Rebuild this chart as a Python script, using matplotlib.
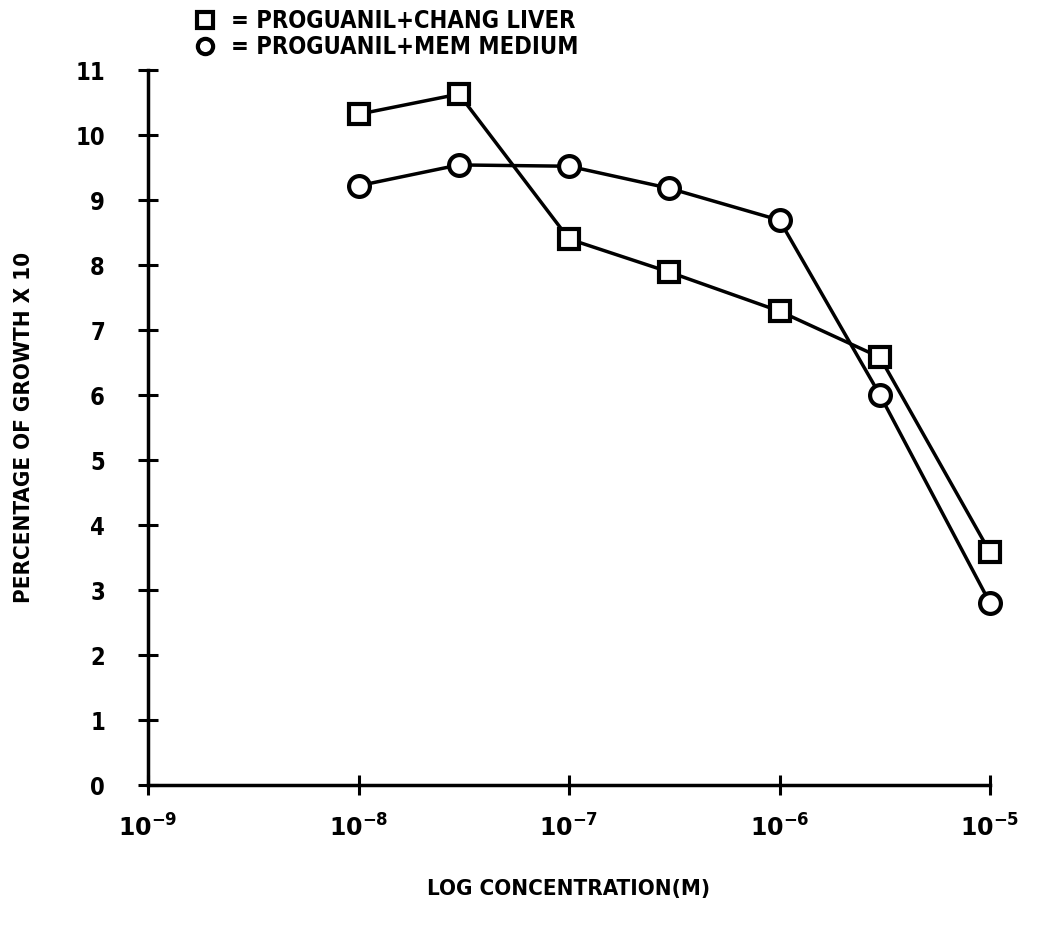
import matplotlib
matplotlib.use("Agg")
import matplotlib.pyplot as plt
from matplotlib.lines import Line2D

# ── Data ──────────────────────────────────────────────────────────────────
conc = [1e-8, 3e-8, 1e-7, 3e-7, 1e-6, 3e-6, 1e-5]
chang_liver = [10.32, 10.63, 8.40, 7.89, 7.29, 6.58, 3.58]
mem_medium = [9.22, 9.54, 9.52, 9.18, 8.69, 6.00, 2.80]

x_ticks = [1e-9, 1e-8, 1e-7, 1e-6, 1e-5]
x_labels = [r"$10^{-9}$", r"$10^{-8}$", r"$10^{-7}$", r"$10^{-6}$", r"$10^{-5}$"]
y_ticks = list(range(0, 12))

FONT = dict(family="DejaVu Sans", weight="bold", stretch="condensed")
plt.rcParams["mathtext.default"] = "bf"

fig = plt.figure(figsize=(10.44, 9.35), dpi=100, facecolor="white")
ax = fig.add_axes([0.1418, 0.1604, 0.8065, 0.7647])

line_kw = dict(color="black", linewidth=2.5, markersize=15,
               markerfacecolor="white", markeredgecolor="black",
               markeredgewidth=3, clip_on=False, zorder=3)
ax.plot(conc, chang_liver, marker="s", **line_kw)
ax.plot(conc, mem_medium, marker="o", **line_kw)

ax.set_xscale("log")
ax.set_xlim(1e-9, 1e-5)
ax.set_ylim(0, 11)
ax.set_xticks(x_ticks)
ax.set_xticklabels(x_labels)
ax.minorticks_off()
ax.set_yticks(y_ticks)

for side in ("top", "right"):
    ax.spines[side].set_visible(False)
for side in ("left", "bottom"):
    ax.spines[side].set_linewidth(2.5)

ax.tick_params(axis="both", direction="inout", length=14, width=2.2,
               labelsize=17)
ax.tick_params(axis="x", pad=14)
ax.tick_params(axis="y", pad=24)
for lab in ax.get_xticklabels() + ax.get_yticklabels():
    lab.set_fontweight("bold")
    lab.set_fontstretch("condensed")

ax.set_ylabel("PERCENTAGE OF GROWTH X 10", fontsize=16, labelpad=30, **FONT)
ax.set_xlabel("LOG CONCENTRATION(M)", fontsize=16, labelpad=27, **FONT)

# legend at the top
handles = [
    Line2D([], [], linestyle="none", marker="s", markersize=11,
           markerfacecolor="white", markeredgecolor="black", markeredgewidth=3),
    Line2D([], [], linestyle="none", marker="o", markersize=11,
           markerfacecolor="white", markeredgecolor="black", markeredgewidth=3),
]
fig.legend(handles, ["= PROGUANIL+CHANG LIVER", "= PROGUANIL+MEM MEDIUM"],
           loc="upper left", bbox_to_anchor=(0.165, 1.013), frameon=False,
           handlelength=1.0, handletextpad=0.6, labelspacing=0.1,
           prop=dict(size=17, **FONT))

fig.savefig("out.png", dpi=100, facecolor="white")
